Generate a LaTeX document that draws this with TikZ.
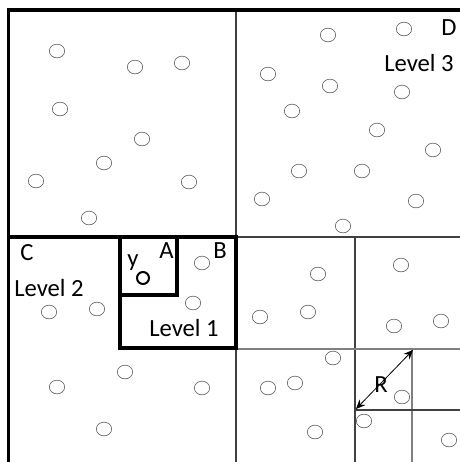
\documentclass[tikz,border=0pt]{standalone}
\usepackage{fontspec}
\setmainfont{Carlito}
\usetikzlibrary{shapes.geometric,arrows.meta}
\begin{document}
\begin{tikzpicture}[x=0.75pt, y=-0.75pt, >={Stealth[length=7pt,width=6pt]},
    pt/.style={draw=black!60, ellipse, minimum width=11.5pt, minimum height=10.3pt, inner sep=0pt, line width=0.5pt},
    query/.style={draw=black, circle, minimum size=9pt, inner sep=0pt, line width=1.5pt},
    lbl/.style={anchor=base west, inner sep=0pt, font=\fontsize{18.5}{22}\selectfont},
    bold/.style={line width=2.3pt},
    thin/.style={line width=0.8pt, black!75},
    fine/.style={line width=0.8pt, black!50}]
  \useasboundingbox (0,0) rectangle (460,462);
  \draw[thin] (236,10) -- (236,237) -- (460,237);
  \draw[thin] (236,348) -- (236,462);
  \draw[thin] (355,237) -- (355,462);
  \draw[fine] (236,349) -- (460,349);
  \draw[fine] (412,349) -- (412,462);
  \draw[thin] (355,410) -- (460,410);
  \draw[bold] (460,10) -- (8.5,10) -- (8.5,462);
  \draw[bold] (8.5,237) -- (236,237);
  \draw[bold] (120,237) rectangle (236,348);
  \draw[bold] (120,237) rectangle (177,295);
  \foreach \px/\py [count=\i] in {57/51, 135/67, 182/63, 60/109, 142/139, 104/163, 36/181, 189/182, 89/218,
      328/35, 404/29, 268/74, 330/86, 402/92, 292/111, 377/130, 433/150, 299/171, 362/171, 262/199, 416/201, 343/226,
      202/263, 193/303, 49/312, 97/309, 57/387, 125/372, 202/388, 104/429,
      318/274, 260/317, 308/312, 401/265, 394/326, 441/321, 333/358, 268/388, 295/383, 402/397, 315/432, 364/421, 449/440}
    \node[pt] (c\i) at (\px,\py) {};
  \node[query] (q) at (143,278) {};
  \node[lbl] (ly) at (127,266) {y};
  \node[lbl] (la) at (159,258) {A};
  \node[lbl] (lb) at (213,258) {B};
  \node[lbl] (lc) at (20,260) {C};
  \node[lbl] (ld) at (441,35) {D};
  \node[lbl] (lv1) at (149,336) {Level 1};
  \node[lbl] (lv2) at (14,296) {Level 2};
  \node[lbl] (lv3) at (384,71) {Level 3};
  \coordinate (r1) at (356,409);
  \coordinate (r2) at (413,350);
  \draw[<->, line width=0.6pt] (r1) -- (r2);
  \node[lbl] (lr) at (374,392) {R};
\end{tikzpicture}
\end{document}
